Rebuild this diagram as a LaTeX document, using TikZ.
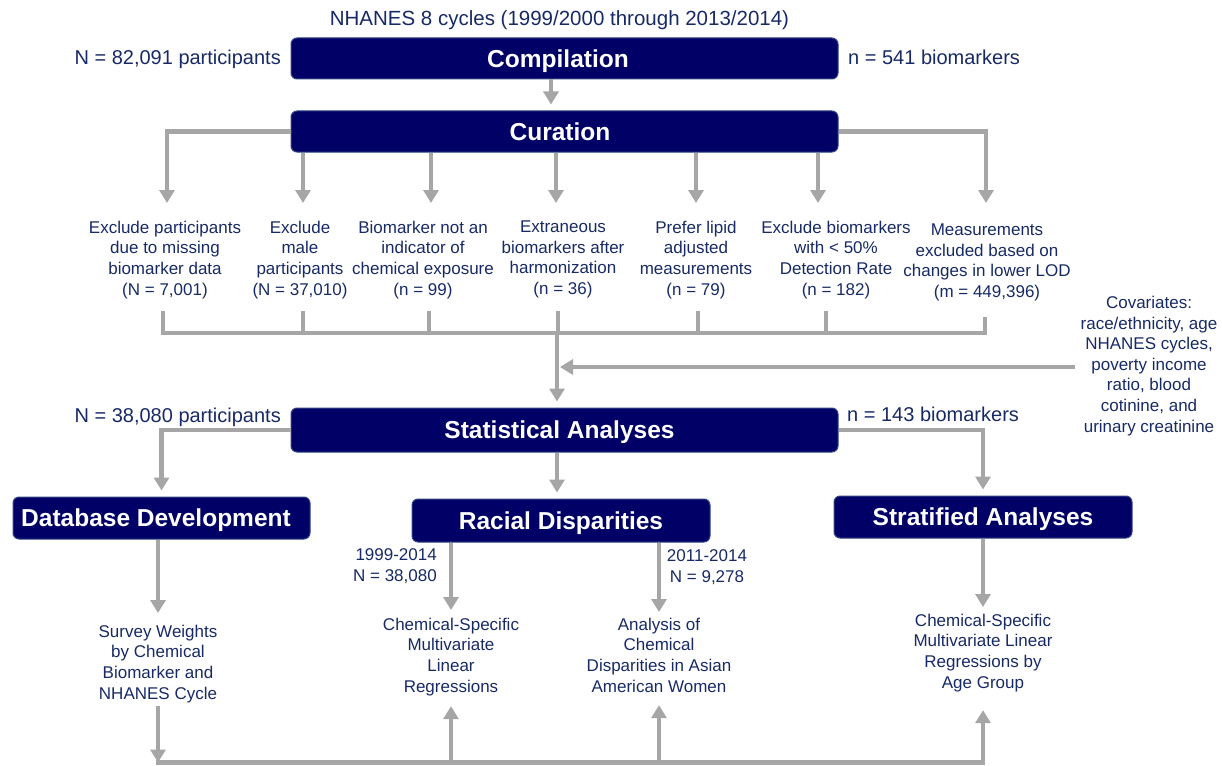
\documentclass[tikz,border=0pt]{standalone}
\usepackage{fontspec}
\setmainfont{Liberation Sans}
\usetikzlibrary{arrows.meta}
\definecolor{navybox}{RGB}{0,0,102}
\definecolor{navyedge}{RGB}{50,70,130}
\definecolor{txtblue}{RGB}{24,42,102}
\definecolor{arrgray}{RGB}{166,166,166}
\begin{document}
\begin{tikzpicture}[x=1pt,y=-1pt,
  box/.style={draw=navyedge, line width=1pt, fill=navybox, rounded corners=6pt, text=white,
    font=\fontsize{24.5}{28}\selectfont\bfseries, inner sep=0pt, text height=17.6pt, text depth=0pt},
  lbl/.style={text=txtblue, font=\fontsize{20}{24}\selectfont, inner sep=0pt},
  txt/.style={text=txtblue, font=\fontsize{17}{20.8}\selectfont, align=center, inner sep=0pt,
    anchor=north, execute at begin node={\strut}, execute at end node={\strut}},
  conn/.style={draw=arrgray, line width=4.5pt},
  arr/.style={conn, -{Triangle[width=15pt,length=13pt]}},
]
\useasboundingbox (0,0) rectangle (1222,765);

% top
\node[lbl, font=\fontsize{20.5}{24}\selectfont, anchor=base] (title) at (559.5,25.4) {NHANES 8 cycles (1999/2000 through 2013/2014)};
\node[box, minimum width=547pt, minimum height=41pt] (comp) at (564.5,58.5) {Compilation\hspace*{13pt}};
\node[lbl, anchor=base east] (np) at (281,64.2) {N = 82,091 participants};
\node[lbl, anchor=base west] (nb) at (848,64.2) {n = 541 biomarkers};
\node[box, minimum width=547pt, minimum height=41pt] (cur) at (564.5,131.5) {Curation\hspace*{9pt}};

% curation criteria
\node[txt] (t1) at (165,220.5) {Exclude participants\\due to missing\\biomarker data\\(N = 7,001)};
\node[txt] (t2) at (300,220.5) {Exclude\\male\\participants\\(N = 37,010)};
\node[txt] (t3) at (423,220.5) {Biomarker not an\\indicator of\\chemical exposure\\(n = 99)};
\node[txt] (t4) at (563,220.5) {Extraneous\\biomarkers after\\harmonization\\(n = 36)};
\node[txt] (t5) at (696,220.5) {Prefer lipid\\adjusted\\measurements\\(n = 79)};
\node[txt] (t6) at (836,220.5) {Exclude biomarkers\\with < 50\%\\Detection Rate\\(n = 182)};
\node[txt] (t7) at (987,223.5) {Measurements\\excluded based on\\changes in lower LOD\\(m = 449,396)};

\node[txt, font=\fontsize{17}{20.6}\selectfont] (cov) at (1149,296) {Covariates:\\race/ethnicity, age\\NHANES cycles,\\poverty income\\ratio, blood\\cotinine, and\\urinary creatinine};

% statistical analyses
\node[box, minimum width=547pt, minimum height=44pt] (stat) at (564.5,430) {Statistical Analyses\hspace*{10pt}};
\node[lbl, anchor=base east] (np2) at (281,422.2) {N = 38,080 participants};
\node[lbl, anchor=base west] (nb2) at (847,421) {n = 143 biomarkers};

\node[box, minimum width=297pt, minimum height=42pt] (db) at (161.5,518) {Database Development\hspace*{11pt}};
\node[box, minimum width=298pt, minimum height=43pt] (racial) at (561,520.5) {Racial Disparities};
\node[box, minimum width=298pt, minimum height=42pt] (strat) at (983,517) {Stratified Analyses};

\node[txt, align=right, anchor=north east] (y1) at (437,548.5) {1999-2014\\N = 38,080};
\node[txt] (y2) at (707,549.5) {2011-2014\\N = 9,278};

\node[txt] (sv) at (158,624.5) {Survey Weights\\by Chemical\\Biomarker and\\NHANES Cycle};
\node[txt] (ch) at (451,617.5) {Chemical-Specific\\Multivariate\\Linear\\Regressions};
\node[txt] (an) at (659,617.5) {Analysis of\\Chemical\\Disparities in Asian\\American Women};
\node[txt] (ag) at (983,613.5) {Chemical-Specific\\Multivariate Linear\\Regressions by\\Age Group};

% connectors: compilation -> curation
\coordinate (cc) at (551,0);
\draw[arr, shorten >=6pt] (comp.south -| cc) -- (cur.north -| cc);

% arrow and stub positions of the criteria
\coordinate (a1) at ([xshift=2pt]t1.north);   \coordinate (s1) at ([xshift=-2pt,yshift=-9.4pt]t1.south);
\coordinate (a2) at ([xshift=3pt]t2.north);   \coordinate (s2) at ([xshift=3pt,yshift=-9.4pt]t2.south);
\coordinate (a3) at ([xshift=8pt]t3.north);   \coordinate (s3) at ([xshift=6pt,yshift=-9.4pt]t3.south);
\coordinate (a4) at ([xshift=-7pt]t4.north);  \coordinate (s4) at ([xshift=-5pt,yshift=-9.4pt]t4.south);
\coordinate (a5) at (t5.north);               \coordinate (s5) at ([xshift=2pt,yshift=-9.4pt]t5.south);
\coordinate (a6) at ([xshift=-18pt]t6.north); \coordinate (s6) at ([xshift=-10pt,yshift=-9.4pt]t6.south);
\coordinate (a7) at ([xshift=-1pt]t7.north);  \coordinate (s7) at ([xshift=-2pt,yshift=-12.4pt]t7.south);

% curation -> criteria
\draw[arr, shorten >=17.5pt] (cur.west) -| (a1);
\draw[arr, shorten >=20.5pt] (cur.east) -| (a7);
\foreach \n in {a2,a3,a4,a5,a6}
  \draw[arr, shorten >=17.5pt] (cur.south -| \n) -- (\n);

% criteria -> merge
\coordinate (m) at (557,333);
\draw[conn] (s1) -- (s1 |- m) -- (s7 |- m) -- (s7);
\foreach \n in {s2,s3,s4,s5,s6}
  \draw[conn] (\n) -- (\n |- m);

% merge -> statistical analyses, covariates
\draw[arr, shorten >=6pt] (m) -- (stat.north -| m);
\coordinate (cj) at (560,367);
\coordinate (cs) at ([xshift=-5pt]cov.west);
\draw[arr] (cs |- cj) -- (cj);

% statistical analyses -> branches
\draw[arr, shorten >=6pt] (stat.west) -| (db.north);
\draw[arr, shorten >=6pt] (stat.east) -| (strat.north);
\draw[arr, shorten >=6pt] (stat.south -| m) -- (racial.north -| m);

% branches -> results
\draw[arr, shorten >=11.5pt] (db.south -| sv) -- (sv.north);
\draw[arr, shorten >=7.5pt] (racial.south -| ch) -- (ch.north);
\draw[arr, shorten >=5.5pt] (racial.south -| an) -- (an.north);
\draw[arr, shorten >=6.5pt] (strat.south -| ag) -- (ag.north);

% bottom loop
\coordinate (bot) at (0,762.5);
\draw[arr] (sv.south) -- (sv.south |- bot);
\draw[arr, shorten >=15.3pt] ([xshift=-2.25pt]sv.south |- bot) -- (ag.south |- bot) -- (ag.south);
\draw[arr, shorten >=7.3pt] (ch.south |- bot) -- (ch.south);
\draw[arr, shorten >=6.3pt] (an.south |- bot) -- (an.south);
\end{tikzpicture}
\end{document}
